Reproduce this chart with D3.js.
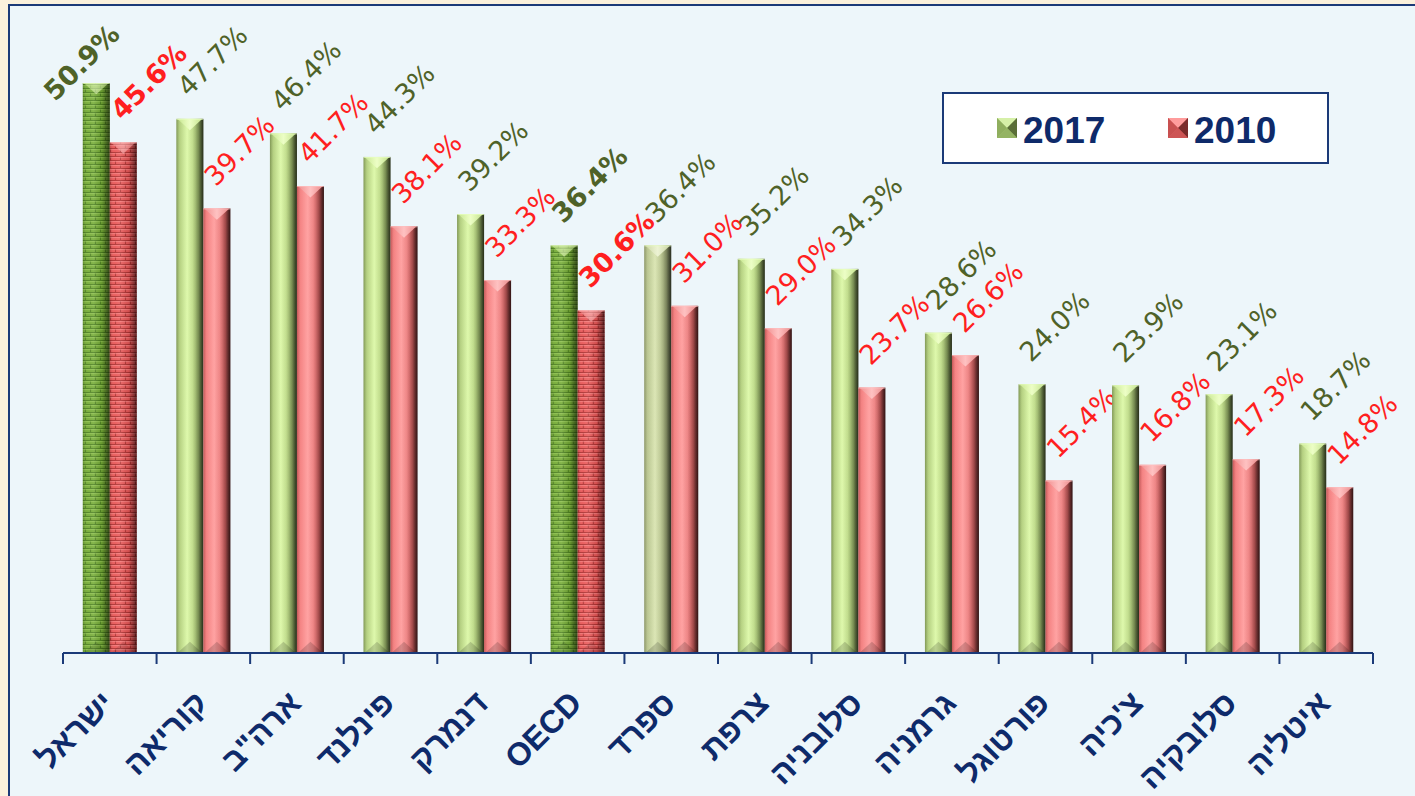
<!DOCTYPE html>
<html><head><meta charset="utf-8">
<script src="https://cdn.jsdelivr.net/npm/d3@7/dist/d3.min.js"></script>
<style>
html,body{margin:0;padding:0;background:#fbf1dc;}
svg{display:block;}
</style></head>
<body>
<svg id="chart" width="1415" height="796"></svg>
<script>
// ---- data ----
const categories = ["ישראל","קוריאה","ארה\"ב","פינלנד","דנמרק","OECD","ספרד","צרפת","סלובניה","גרמניה","פורטוגל","צ'כיה","סלובקיה","איטליה"];
const series = ["2017","2010"];
const values2017 = [50.9,47.7,46.4,44.3,39.2,36.4,36.4,35.2,34.3,28.6,24.0,23.9,23.1,18.7];
const values2010 = [45.6,39.7,41.7,38.1,33.3,30.6,31.0,29.0,23.7,26.6,15.4,16.8,17.3,14.8];
const highlighted = ["ישראל","OECD"];
const muted = ["ספרד"];

const svg = d3.select("#chart");
const W = 1415, H = 796;
const defs = svg.append("defs");

// background
svg.append("rect").attr("x",0).attr("y",0).attr("width",W).attr("height",H).attr("fill","#fbf1dc");
svg.append("rect").attr("x",9).attr("y",5).attr("width",W).attr("height",H).attr("fill","#edf6fa")
  .attr("stroke","#1b3a78").attr("stroke-width",2);

// gradients
function hGrad(id, stops){
  const g = defs.append("linearGradient").attr("id",id).attr("x1","0").attr("x2","1").attr("y1","0").attr("y2","0");
  stops.forEach(s=>g.append("stop").attr("offset",s[0]).attr("stop-color",s[1]).attr("stop-opacity",s[2]===undefined?1:s[2]));
}
hGrad("gGreen",[[0,"#8ea85e"],[0.12,"#b3cf7e"],[0.4,"#dcf8a6"],[0.6,"#c9e692"],[0.82,"#8fa862"],[1,"#3a4526"]]);
hGrad("gGreenMuted",[[0,"#9aa672"],[0.12,"#b9c590"],[0.4,"#d9e4b0"],[0.6,"#c6d29c"],[0.82,"#95a070"],[1,"#3e4430"]]);
hGrad("gRed",[[0,"#d86060"],[0.12,"#f48080"],[0.4,"#ff9c9c"],[0.6,"#f88a8a"],[0.82,"#c05858"],[1,"#4a1e1e"]]);
hGrad("gShade",[[0,"#000",0.18],[0.15,"#fff",0.05],[0.4,"#fff",0.12],[0.7,"#000",0.1],[1,"#000",0.6]]);
hGrad("gCapGreen",[[0,"#c8e890"],[0.5,"#eeffc8"],[1,"#c8e890"]]);
hGrad("gCapGreenMuted",[[0,"#cdd8a6"],[0.5,"#eef4d6"],[1,"#cdd8a6"]]);
hGrad("gCapRed",[[0,"#f09090"],[0.5,"#ffc4c4"],[1,"#f09090"]]);

function brick(id, base, line, hi){
  const p = defs.append("pattern").attr("id",id).attr("patternUnits","userSpaceOnUse").attr("width",10).attr("height",8);
  p.append("rect").attr("width",10).attr("height",8).attr("fill",base);
  p.append("path").attr("d","M0,0.5H10M0,4.5H10M2.5,0.5V4.5M7.5,4.5V8.5").attr("stroke",line).attr("stroke-width",1.1).attr("fill","none");
  p.append("path").attr("d","M0,1.6H10M0,5.6H10").attr("stroke",hi).attr("stroke-width",0.8).attr("opacity",0.6);
}
brick("bGreen","#73aa34","#4e8220","#a6d464");
brick("bRed","#e85656","#b03232","#ff9a9a");

// scales
const x = d3.scaleBand().domain(categories).range([63,1373]).paddingInner(0).paddingOuter(0);
const x1 = d3.scaleBand().domain(series).range([0,x.bandwidth()]).paddingInner(0).paddingOuter(0.733);
const y = d3.scaleLinear().domain([0,60]).range([653,653-60*11.198]);

const rows = categories.map((c,i)=>({cat:c, vals:[{s:"2017",v:values2017[i]},{s:"2010",v:values2010[i]}]}));

const g = svg.append("g");
const groups = g.selectAll("g.cat").data(rows).join("g").attr("class","cat")
  .attr("transform",d=>`translate(${x(d.cat)},0)`);

groups.each(function(d){
  const gg = d3.select(this);
  const hl = highlighted.includes(d.cat);
  const mu = muted.includes(d.cat);
  d.vals.forEach(b=>{
    const bx = x1(b.s), bw = x1.bandwidth(), top = y(b.v), base = y(0);
    const green = b.s==="2017";
    let fill;
    if(hl) fill = green ? "url(#bGreen)" : "url(#bRed)";
    else fill = green ? (mu?"url(#gGreenMuted)":"url(#gGreen)") : "url(#gRed)";
    gg.append("rect").attr("x",bx).attr("y",top).attr("width",bw).attr("height",base-top).attr("fill",fill);
    gg.append("rect").attr("x",bx).attr("y",top).attr("width",bw).attr("height",base-top)
      .attr("fill","url(#gShade)").attr("opacity",hl?1:0.55);
    const capH = bw*0.42;
    const capFill = green ? (mu?"url(#gCapGreenMuted)":"url(#gCapGreen)") : "url(#gCapRed)";
    gg.append("path").attr("d",`M${bx+1},${top}L${bx+bw-1},${top}L${bx+bw/2},${top+capH}Z`)
      .attr("fill",capFill).attr("opacity",hl?0.55:0.95);
    gg.append("path").attr("d",`M${bx+1},${base}L${bx+bw-1},${base}L${bx+bw/2},${base-capH}Z`)
      .attr("fill","#000").attr("opacity",hl?0.1:0.16);
    gg.append("line").attr("x1",bx).attr("x2",bx+bw).attr("y1",top+0.5).attr("y2",top+0.5)
      .attr("stroke",green?"#e8ffc0":"#ffc0c0").attr("stroke-width",1).attr("opacity",0.7);
  });
});

// value labels (rotated -45°, kept inside the frame by sliding back along their baseline)
const labelFont = "'DejaVu Sans', Verdana, sans-serif";
const fs = 27, capK = 0.73, r2 = Math.SQRT1_2, minTop = 22;
groups.each(function(d){
  const gg = d3.select(this);
  const hl = highlighted.includes(d.cat);
  d.vals.forEach(b=>{
    const cx = x1(b.s) + x1.bandwidth()/2;
    const top = y(b.v);
    const green = b.s==="2017";
    let axp = cx - 1, ayp = top - 21;
    const t = gg.append("text")
      .attr("text-anchor","start")
      .attr("font-family",labelFont).attr("font-size",fs)
      .attr("font-weight",hl?"bold":"normal")
      .attr("fill",green?"#4f6228":"#ff1f1f")
      .text(b.v.toFixed(1)+"%");
    const L = t.node().getComputedTextLength();
    const textTop = ayp - L*r2 - fs*capK*r2;
    if(textTop < minTop){ const s = minTop - textTop; axp -= s; ayp += s; }
    t.attr("transform",`translate(${axp},${ayp}) rotate(-45)`);
  });
});

// axis
const axis = d3.axisBottom(x).tickSizeOuter(0).tickSize(0).tickFormat(d=>d);
const ax = svg.append("g").attr("transform","translate(0,653)");
ax.append("line").attr("x1",63).attr("x2",1373).attr("y1",0).attr("y2",0).attr("stroke","#1b3a78").attr("stroke-width",2.2);
const tickPos = categories.map(c=>x(c)).concat([x(categories[categories.length-1])+x.bandwidth()]);
ax.selectAll("line.tk").data(tickPos).join("line").attr("class","tk")
  .attr("x1",d=>d).attr("x2",d=>d).attr("y1",0).attr("y2",11).attr("stroke","#1b3a78").attr("stroke-width",2);

const axG = svg.append("g").attr("transform","translate(0,653)").call(axis);
axG.select(".domain").remove();
axG.selectAll(".tick text")
  .attr("font-family","'Liberation Sans', Arial, sans-serif")
  .attr("font-size",32).attr("font-weight","bold").attr("fill","#0e2a6a")
  .attr("text-anchor","end")
  .attr("dy",0).attr("y",0)
  .attr("transform","translate(6,52) rotate(-45)");

// legend
const lg = svg.append("g");
lg.append("rect").attr("x",943).attr("y",93).attr("width",385).attr("height",70)
  .attr("fill","#ffffff").attr("stroke","#1b3a78").attr("stroke-width",2);
const legendX = d3.scalePoint().domain(series).range([997,1168]);
series.forEach(s=>{
  const lx = legendX(s), ly = 118, sz = 20;
  const green = s==="2017";
  const base = green ? "#a9c878" : "#e06868";
  const light = green ? "#d6f0a8" : "#ff9c9c";
  const dark = green ? "#5a6e38" : "#7a2a2a";
  const mid = green ? "#8fae5e" : "#c85050";
  lg.append("rect").attr("x",lx).attr("y",ly).attr("width",sz).attr("height",sz).attr("fill",base);
  lg.append("path").attr("d",`M${lx},${ly}L${lx+sz},${ly}L${lx+sz/2},${ly+sz/2}Z`).attr("fill",light);
  lg.append("path").attr("d",`M${lx},${ly}L${lx},${ly+sz}L${lx+sz/2},${ly+sz/2}Z`).attr("fill",mid);
  lg.append("path").attr("d",`M${lx+sz},${ly}L${lx+sz},${ly+sz}L${lx+sz/2},${ly+sz/2}Z`).attr("fill",dark);
  lg.append("path").attr("d",`M${lx},${ly+sz}L${lx+sz},${ly+sz}L${lx+sz/2},${ly+sz/2}Z`).attr("fill",mid).attr("opacity",0.8);
  lg.append("text").attr("x",lx+26).attr("y",ly+25)
    .attr("font-family","'Liberation Sans', Arial, sans-serif").attr("font-size",37).attr("font-weight","bold")
    .attr("fill","#0e2a6a").text(s);
});
</script>
</body></html>
